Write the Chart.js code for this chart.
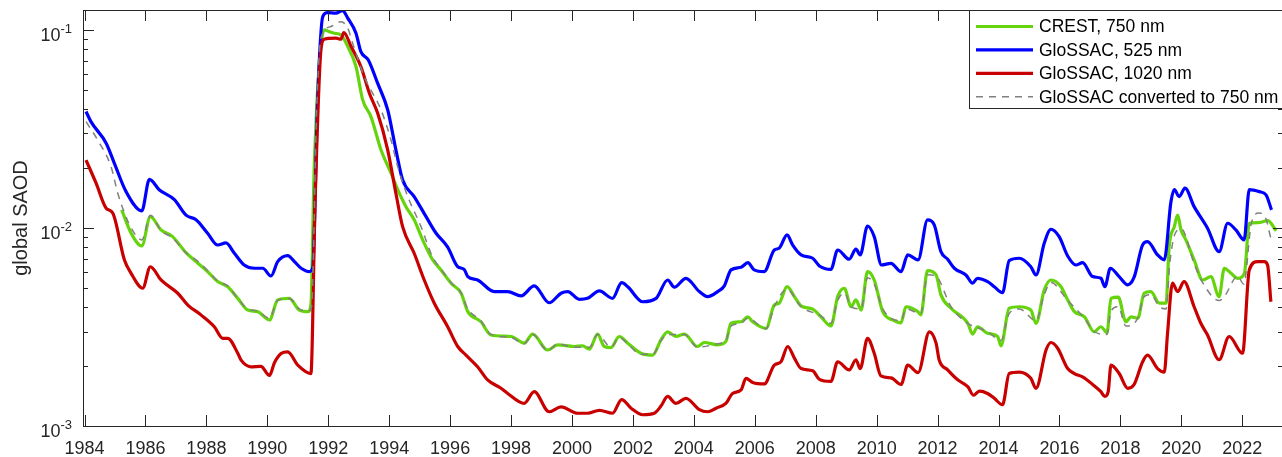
<!DOCTYPE html>
<html>
<head>
<meta charset="utf-8">
<title>global SAOD</title>
<script src="https://cdn.jsdelivr.net/npm/chart.js@4.4.1/dist/chart.umd.min.js"></script>
<style>
  html, body { margin: 0; padding: 0; background: #fff; overflow: hidden; }
  canvas { display: block; }
</style>
</head>
<body>
<!-- the figure is cut at its right edge, so the canvas runs a few pixels past the window -->
<canvas id="saod" width="1290" height="457"></canvas>
<script>
// tick positions
const xTicks = [1984, 1986, 1988, 1990, 1992, 1994, 1996, 1998, 2000, 2002, 2004, 2006, 2008, 2010, 2012, 2014, 2016, 2018, 2020, 2022];
const yMajorTicks = [0.001, 0.01, 0.1];
const yMinorTicks = [0.002, 0.003, 0.004, 0.005, 0.006, 0.007, 0.008, 0.009,
  0.02, 0.03, 0.04, 0.05, 0.06, 0.07, 0.08, 0.09];

// CREST, 750 nm
const crestYears = [1985.22,1985.53,1985.88,1986.16,1986.51,1986.89,1987.33,1987.66,1988.04,1988.37,
  1988.70,1989.03,1989.36,1989.68,1990.07,1990.34,1990.72,1991.05,1991.33,1991.43,
  1991.54,1991.87,1992.03,1992.20,1992.42,1992.64,1992.91,1993.13,1993.40,1993.73,
  1994.06,1994.28,1994.55,1994.82,1995.10,1995.43,1995.70,1996.03,1996.36,1996.58,
  1997.01,1997.34,1998.00,1998.43,1998.71,1999.20,1999.53,2000.07,2000.35,2000.57,
  2000.84,2001.06,2001.28,2001.55,2001.83,2002.26,2002.65,2002.92,2003.14,2003.41,
  2003.69,2004.12,2004.34,2004.78,2005.05,2005.22,2005.55,2005.77,2005.93,2006.37,
  2006.64,2006.80,2007.06,2007.30,2007.52,2007.90,2008.17,2008.50,2008.72,2008.94,
  2009.16,2009.32,2009.49,2009.70,2009.92,2010.20,2010.52,2010.80,2010.96,2011.35,
  2011.45,2011.67,2011.95,2012.11,2012.44,2012.99,2013.15,2013.31,2013.64,2013.97,
  2014.08,2014.35,2014.68,2015.06,2015.23,2015.50,2015.72,2016.05,2016.27,2016.49,
  2016.82,2017.14,2017.36,2017.56,2017.69,2017.93,2018.18,2018.35,2018.57,2018.78,
  2019.00,2019.28,2019.50,2019.60,2019.77,2019.88,2019.99,2020.15,2020.42,2020.70,
  2020.97,2021.24,2021.41,2021.63,2021.85,2022.07,2022.23,2022.51,2022.84,2023.11];
const crestValues = [0.01233,0.0094,0.00811,0.01141,0.00977,0.00904,0.0075,0.00676,0.00602,0.00536,
  0.00505,0.00441,0.00385,0.00378,0.00343,0.00433,0.00441,0.00385,0.00378,0.00408,
  0.0204,0.1,0.098,0.0962,0.0943,0.0824,0.0653,0.0443,0.0365,0.0248,
  0.0189,0.0156,0.0128,0.011,0.0087,0.00689,0.00614,0.00526,0.00468,0.00378,
  0.00336,0.00288,0.00283,0.00262,0.00291,0.00242,0.00257,0.00252,0.00254,0.00244,
  0.00291,0.00252,0.00249,0.00283,0.00262,0.00233,0.00228,0.00272,0.00299,0.00283,
  0.00291,0.00252,0.00264,0.00257,0.00267,0.0033,0.00336,0.00356,0.00336,0.00311,
  0.00408,0.00417,0.00505,0.0045,0.00404,0.00389,0.00356,0.0032,0.0045,0.00496,
  0.004,0.00433,0.00385,0.00602,0.00546,0.00378,0.00343,0.00332,0.004,0.00378,
  0.00364,0.00609,0.00579,0.00459,0.00393,0.0033,0.00291,0.00317,0.00294,0.00283,
  0.00254,0.00393,0.004,0.00385,0.0033,0.00486,0.00546,0.00505,0.00433,0.00378,
  0.00356,0.00299,0.00317,0.00296,0.00441,0.00447,0.00336,0.00356,0.0035,0.00468,
  0.00477,0.00417,0.00417,0.00804,0.01015,0.0116,0.00977,0.0087,0.00689,0.00546,
  0.00568,0.0045,0.00626,0.0059,0.00557,0.0059,0.01056,0.01063,0.01088,0.00969];

// GloSSAC, 525 nm
const blueYears = [1984.05,1984.21,1984.71,1984.98,1985.36,1985.88,1986.13,1986.45,1986.95,1987.33,
  1987.66,1988.04,1988.37,1988.64,1988.92,1989.24,1989.57,1989.85,1990.12,1990.34,
  1990.67,1990.89,1991.11,1991.38,1991.49,1991.65,1991.82,1991.98,1992.25,1992.47,
  1992.64,1992.91,1993.07,1993.31,1993.62,1993.95,1994.22,1994.44,1994.82,1995.21,
  1995.54,1995.92,1996.25,1996.46,1996.58,1996.90,1997.45,1997.89,1998.33,1998.76,
  1999.25,1999.64,1999.86,2000.24,2000.51,2000.90,2001.33,2001.63,2001.83,2002.32,
  2002.76,2003.14,2003.36,2003.74,2004.18,2004.45,2004.78,2005.00,2005.22,2005.55,
  2005.77,2005.98,2006.31,2006.64,2006.80,2007.06,2007.24,2007.52,2007.90,2008.12,
  2008.50,2008.72,2009.10,2009.32,2009.46,2009.70,2009.92,2010.16,2010.47,2010.80,
  2011.02,2011.36,2011.67,2011.89,2012.11,2012.33,2012.55,2012.93,2013.15,2013.31,
  2013.64,2013.86,2014.13,2014.35,2014.68,2015.06,2015.23,2015.50,2015.72,2015.99,
  2016.27,2016.54,2016.76,2017.09,2017.36,2017.49,2017.67,2017.96,2018.24,2018.45,
  2018.73,2018.89,2019.22,2019.44,2019.66,2019.77,2019.93,2020.12,2020.42,2020.86,
  2021.24,2021.52,2021.79,2022.06,2022.23,2022.56,2022.78,2022.96];
const blueValues = [0.0387,0.0344,0.0268,0.0212,0.0153,0.0122,0.0176,0.0156,0.0139,0.0116,
  0.0110,0.0094,0.0082,0.0084,0.00745,0.0065,0.00626,0.00626,0.00572,0.00676,
  0.00725,0.00676,0.00626,0.00602,0.0063,0.0443,0.1167,0.1223,0.1214,0.1252,
  0.1146,0.0962,0.0777,0.0706,0.0538,0.0395,0.0248,0.0175,0.0144,0.0114,
  0.0094,0.0080,0.00637,0.00618,0.00568,0.00546,0.00477,0.00477,0.00454,0.0051,
  0.00419,0.00468,0.00477,0.00436,0.00441,0.00481,0.00441,0.00529,0.00505,0.00424,
  0.00441,0.00546,0.00502,0.00557,0.00477,0.0045,0.00477,0.0051,0.00614,0.00633,
  0.00668,0.00614,0.00602,0.00774,0.0079,0.00922,0.00821,0.00731,0.00703,0.00643,
  0.00618,0.00774,0.00695,0.00781,0.00731,0.01023,0.00904,0.0065,0.00663,0.00602,
  0.00731,0.0069,0.01098,0.01036,0.00759,0.00695,0.00626,0.00579,0.00526,0.00557,
  0.00536,0.00505,0.00471,0.00684,0.00703,0.00637,0.00579,0.00837,0.00985,0.00904,
  0.00722,0.0065,0.00668,0.00568,0.00557,0.00505,0.00626,0.00568,0.00516,0.00564,
  0.00821,0.00853,0.00731,0.0069,0.01358,0.0156,0.01439,0.01587,0.01281,0.00997,
  0.00759,0.01056,0.00977,0.0087,0.0156,0.01525,0.01468,0.01233];

// GloSSAC, 1020 nm
const redYears = [1984.05,1984.38,1984.71,1984.93,1985.31,1985.53,1985.91,1986.16,1986.51,1987.06,
  1987.39,1987.82,1988.26,1988.54,1988.70,1989.03,1989.14,1989.46,1989.79,1990.07,
  1990.23,1990.45,1990.67,1991.00,1991.43,1991.57,1991.76,1991.87,1992.25,1992.42,
  1992.51,1992.75,1993.07,1993.35,1993.62,1993.95,1994.22,1994.44,1994.82,1995.15,
  1995.48,1995.92,1996.25,1996.52,1996.90,1997.23,1997.67,1997.89,1998.43,1998.76,
  1999.25,1999.64,2000.19,2000.51,2000.90,2001.33,2001.63,2001.94,2002.32,2002.70,
  2002.92,2003.14,2003.41,2003.74,2004.18,2004.45,2004.73,2005.05,2005.27,2005.55,
  2005.71,2005.93,2006.31,2006.64,2006.86,2007.08,2007.30,2007.52,2007.90,2008.12,
  2008.50,2008.72,2009.10,2009.32,2009.46,2009.70,2009.92,2010.14,2010.47,2010.80,
  2011.02,2011.36,2011.73,2011.95,2012.05,2012.33,2012.66,2012.99,2013.18,2013.37,
  2013.64,2013.86,2014.13,2014.35,2014.68,2015.06,2015.23,2015.56,2015.72,2015.94,
  2016.27,2016.49,2016.76,2017.09,2017.36,2017.49,2017.60,2017.69,2017.96,2018.24,
  2018.45,2018.73,2018.89,2019.22,2019.44,2019.55,2019.71,2019.88,2020.09,2020.42,
  2020.64,2020.86,2021.24,2021.57,2022.01,2022.23,2022.51,2022.72,2022.83,2022.94];
const redValues = [0.022,0.01682,0.01258,0.01187,0.00689,0.0059,0.00496,0.00637,0.00546,0.00468,
  0.00408,0.00364,0.00317,0.00277,0.00277,0.00233,0.00215,0.00199,0.002,0.0018,
  0.00208,0.00232,0.00237,0.00203,0.00184,0.0139,0.0792,0.0897,0.0908,0.0897,
  0.0969,0.0824,0.0653,0.0479,0.038,0.0248,0.01497,0.01015,0.00745,0.00546,
  0.00417,0.00317,0.00252,0.00228,0.00199,0.00171,0.00155,0.00146,0.0013,0.00149,
  0.00118,0.00125,0.00116,0.00116,0.0012,0.00116,0.00136,0.00123,0.00114,0.00116,
  0.00126,0.00141,0.0013,0.00138,0.00121,0.00118,0.00123,0.0013,0.00146,0.00152,
  0.00174,0.00166,0.00163,0.00203,0.00211,0.00252,0.0022,0.00195,0.0019,0.00172,
  0.00168,0.00211,0.00192,0.00216,0.00195,0.00277,0.00233,0.00179,0.00175,0.00162,
  0.00203,0.00186,0.00299,0.00262,0.00216,0.00192,0.00171,0.00158,0.00143,0.0015,
  0.00146,0.00138,0.00128,0.00184,0.00187,0.00174,0.00155,0.00242,0.00264,0.00247,
  0.00195,0.00184,0.00177,0.00162,0.00149,0.00141,0.00149,0.00203,0.00184,0.00155,
  0.00162,0.00211,0.00228,0.00195,0.00187,0.00297,0.00526,0.00477,0.00536,0.004,
  0.0033,0.00288,0.00216,0.00283,0.00233,0.00614,0.00676,0.00676,0.0065,0.00424];

// GloSSAC converted to 750 nm
const convYears = [1984.05,1984.43,1984.87,1985.09,1985.26,1985.53,1985.88,1986.16,1986.51,1986.89,
  1987.33,1987.66,1988.04,1988.37,1988.70,1989.03,1989.36,1989.68,1990.07,1990.34,
  1990.72,1991.05,1991.33,1991.45,1991.62,1991.76,1992.09,1992.42,1992.64,1992.80,
  1993.18,1993.73,1994.06,1994.28,1994.61,1995.04,1995.43,1995.70,1996.03,1996.36,
  1996.58,1997.01,1997.34,1998.00,1998.43,1998.71,1999.20,1999.53,2000.07,2000.57,
  2000.84,2001.28,2001.55,2001.83,2002.26,2002.65,2002.92,2003.14,2003.69,2004.12,
  2004.78,2005.05,2005.22,2005.55,2005.77,2006.37,2006.64,2007.06,2007.52,2008.17,
  2008.50,2008.72,2008.94,2009.16,2009.49,2009.70,2009.92,2010.20,2010.80,2010.96,
  2011.45,2011.67,2011.95,2012.44,2012.99,2013.64,2014.08,2014.35,2014.68,2015.23,
  2015.50,2015.72,2016.27,2016.82,2017.14,2017.56,2017.69,2017.93,2018.18,2018.57,
  2018.78,2019.00,2019.28,2019.50,2019.62,2019.80,2020.00,2020.42,2020.70,2021.24,
  2021.41,2021.85,2022.05,2022.30,2022.55,2022.75,2022.95];
const convValues = [0.0344,0.0278,0.0204,0.0150,0.0125,0.0100,0.0087,0.0116,0.0097,0.0089,
  0.0075,0.0069,0.0061,0.0054,0.0051,0.0044,0.0039,0.0038,0.0035,0.0043,
  0.0044,0.0039,0.0038,0.0040,0.040,0.0908,0.104,0.110,0.102,0.0857,
  0.0581,0.0395,0.0278,0.0204,0.0144,0.0102,0.0071,0.0062,0.0053,0.0047,
  0.0039,0.0034,0.0029,0.0028,0.0026,0.0029,0.0024,0.0026,0.0025,0.0025,
  0.0029,0.0025,0.0028,0.0026,0.0023,0.0023,0.0027,0.0029,0.0029,0.0025,
  0.0026,0.0027,0.0032,0.0033,0.0035,0.0031,0.0040,0.0049,0.0040,0.0036,
  0.0033,0.0043,0.0047,0.0040,0.0039,0.0056,0.0052,0.0039,0.0034,0.0039,
  0.0037,0.0058,0.0057,0.0040,0.0033,0.0030,0.0027,0.0037,0.0039,0.0034,
  0.0046,0.0053,0.0043,0.0035,0.0030,0.0029,0.0038,0.0040,0.0032,0.0035,
  0.0045,0.0046,0.0040,0.0039,0.0066,0.0094,0.0099,0.0066,0.0053,0.0043,
  0.0045,0.0057,0.0052,0.0106,0.0119,0.0114,0.0087];

const FONT = "'Liberation Sans', Arial, Helvetica, sans-serif";
const INK = '#262626';

const pairs = (xs, ys) => xs.slice(0, Math.min(xs.length, ys.length)).map((x, i) => ({ x, y: ys[i] }));

// MATLAB-like box: inward ticks, 10^n labels, rotated y label and a legend in the corner
const matlabAxes = {
  id: 'matlabAxes',
  afterDatasetsDraw(chart) {
    const { ctx, chartArea: a, scales: { x, y } } = chart;
    ctx.save();
    ctx.strokeStyle = INK;
    ctx.lineWidth = 1;
    ctx.beginPath();
    xTicks.forEach((v) => {
      const px = Math.round(x.getPixelForValue(v)) + 0.5;
      ctx.moveTo(px, a.bottom); ctx.lineTo(px, a.bottom - 11);
      ctx.moveTo(px, a.top); ctx.lineTo(px, a.top + 11);
    });
    yMajorTicks.forEach((v) => {
      const py = Math.round(y.getPixelForValue(v)) + 0.5;
      ctx.moveTo(a.left, py); ctx.lineTo(a.left + 11, py);
      ctx.moveTo(a.right, py); ctx.lineTo(a.right - 11, py);
    });
    yMinorTicks.forEach((v) => {
      const py = Math.round(y.getPixelForValue(v)) + 0.5;
      ctx.moveTo(a.left, py); ctx.lineTo(a.left + 5, py);
      ctx.moveTo(a.right, py); ctx.lineTo(a.right - 6, py);
    });
    ctx.stroke();
    ctx.strokeRect(a.left + 0.5, a.top + 0.5, a.right - a.left, a.bottom - a.top);

    // y tick labels as 10 with a raised exponent
    ctx.fillStyle = INK;
    ctx.textBaseline = 'alphabetic';
    yMajorTicks.forEach((v) => {
      const py = y.getPixelForValue(v);
      const exp = String(Math.round(Math.log10(v)));
      ctx.font = `13px ${FONT}`;
      ctx.textAlign = 'right';
      ctx.fillText(exp, 72, py + 3);
      const w = ctx.measureText(exp).width;
      ctx.font = `18px ${FONT}`;
      ctx.fillText('10', 72 - w, py + 11);
    });

    // axis title
    ctx.save();
    ctx.translate(27, (a.top + a.bottom) / 2);
    ctx.rotate(-Math.PI / 2);
    ctx.font = `20px ${FONT}`;
    ctx.textAlign = 'center';
    ctx.fillText('global SAOD', 0, 0);
    ctx.restore();

    // legend
    const lx = 969.5, ly = 10.5, lh = 98;
    ctx.fillStyle = '#fff';
    ctx.fillRect(lx, ly, a.right - lx, lh);
    ctx.strokeStyle = INK;
    ctx.lineWidth = 1;
    ctx.strokeRect(lx, ly, a.right - lx, lh);
    ctx.font = `17.5px ${FONT}`;
    ctx.textAlign = 'left';
    ctx.textBaseline = 'middle';
    chart.data.datasets.forEach((ds, i) => {
      const ry = 26.5 + i * 23.4;
      ctx.strokeStyle = ds.borderColor;
      ctx.lineWidth = ds.borderWidth;
      ctx.setLineDash(ds.borderDash || []);
      ctx.beginPath();
      ctx.moveTo(976, ry); ctx.lineTo(1033, ry);
      ctx.stroke();
      ctx.setLineDash([]);
      ctx.fillStyle = '#000';
      ctx.fillText(ds.label, 1039, ry + 1);
    });
    ctx.restore();
  },
};

const line = (label, xs, ys, color, width, order, dash) => ({
  label,
  data: pairs(xs, ys),
  borderColor: color,
  borderWidth: width,
  borderDash: dash,
  borderJoinStyle: 'round',
  pointRadius: 0,
  cubicInterpolationMode: 'monotone',
  fill: false,
  order,
});

new Chart(document.getElementById('saod'), {
  type: 'line',
  data: {
    datasets: [
      line('CREST, 750 nm', crestYears, crestValues, 'rgb(102,212,12)', 3.2, 3),
      line('GloSSAC, 525 nm', blueYears, blueValues, 'rgb(0,0,255)', 3.2, 2),
      line('GloSSAC, 1020 nm', redYears, redValues, 'rgb(200,0,0)', 3.2, 1),
      line('GloSSAC converted to 750 nm', convYears, convValues, 'rgb(128,128,128)', 1.5, 0, [7, 6]),
    ],
  },
  options: {
    responsive: false,
    devicePixelRatio: 1,
    animation: false,
    layout: { padding: { top: 10, right: 6, left: 0, bottom: 0 } },
    plugins: { legend: { display: false }, tooltip: { enabled: false } },
    scales: {
      x: {
        type: 'linear',
        min: 1983.95,
        max: 2023.37,
        afterBuildTicks: (s) => { s.ticks = xTicks.map((v) => ({ value: v })); },
        afterFit: (s) => { s.height = 31; },
        grid: { display: false, drawTicks: false },
        border: { display: false },
        ticks: {
          autoSkip: false,
          maxRotation: 0,
          padding: 12,
          color: INK,
          font: { family: FONT, size: 18 },
          callback: (v) => String(v),
        },
      },
      y: {
        type: 'logarithmic',
        min: 0.001,
        max: 0.126,
        afterFit: (s) => { s.width = 83; },
        grid: { display: false, drawTicks: false },
        border: { display: false },
        ticks: { display: false },
      },
    },
  },
  plugins: [matlabAxes],
});
</script>
</body>
</html>
